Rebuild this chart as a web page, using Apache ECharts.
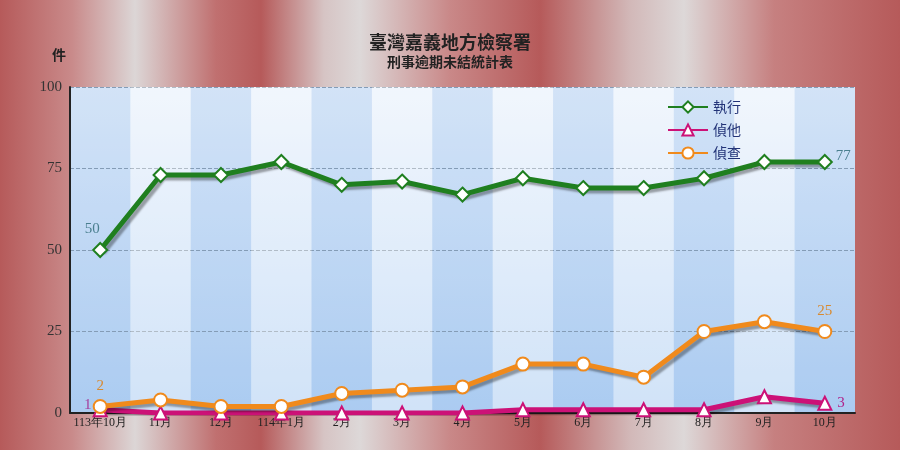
<!DOCTYPE html>
<html><head><meta charset="utf-8">
<script src="https://cdn.jsdelivr.net/npm/echarts@6/dist/echarts.min.js"></script>
<style>
body{margin:0;}
#c{width:900px;height:450px;
background:linear-gradient(90deg,#b65a5a 0%,#c98a8a 8%,#dcd6d6 15%,#c07070 24%,#b65a5a 29%,#d6c4c4 36%,#ddd8d8 40%,#c98888 50%,#b65a5a 60%,#d2b8b8 70%,#ddd8d8 76%,#c68080 86%,#b65a5a 100%);}
</style></head><body>
<div id="c"></div>
<script>
var months = ['113年10月','11月','12月','114年1月','2月','3月','4月','5月','6月','7月','8月','9月','10月'];
var zhixing = [50,73,73,77,70,71,67,72,69,69,72,77,77];
var zhenta = [1,0,0,0,0,0,0,1,1,1,1,5,3];
var zhencha = [2,4,2,2,6,7,8,15,15,11,25,28,25];

var font = '"Noto Sans CJK TC", "Liberation Serif", serif';
var last = months.length - 1;
var chart = echarts.init(document.getElementById('c'));

function ser(name, data, color, symbol, size) {
  return {
    name: name, type: 'line', data: data, symbol: symbol, symbolSize: size,
    lineStyle: {width: 5, color: color, shadowColor: 'rgba(0,0,0,0.35)', shadowOffsetX: 3, shadowOffsetY: 3, shadowBlur: 2},
    itemStyle: {color: '#fff', borderColor: color, borderWidth: 2},
    z: 3
  };
}

function pointLabel(idx, pos, color) {
  return {value: 0, label: {show: true, position: pos, color: color, fontFamily: 'Liberation Serif', fontSize: 15}, idx: idx};
}

// per-point end labels
function withLabels(data, marks) {
  return data.map(function (v, i) {
    var m = marks[i];
    if (!m) return v;
    return {value: v, label: {show: true, position: m[0], color: m[1], fontFamily: 'Liberation Serif', fontSize: 15, offset: m[2] || [0, 0]}};
  });
}

var m1 = {}; m1[0] = ['top', '#4a7f8f', [-8, 0]]; m1[last] = ['right', '#4a7f8f', [-2, -6]];
var m2 = {}; m2[last] = ['right', '#b0228a'];
var m3 = {}; m3[0] = ['top', '#d88a30']; m3[last] = ['top', '#d88a30'];

var s1 = ser('執行', withLabels(zhixing, m1), '#1f7f1f', 'diamond', 14);
var s2 = ser('偵他', withLabels(zhenta, m2), '#cc1177', 'triangle', 13);
var s3 = ser('偵查', withLabels(zhencha, m3), '#f08a1c', 'circle', 13);

chart.setOption({
  title: {
    text: '臺灣嘉義地方檢察署', subtext: '刑事逾期未結統計表', left: 'center', top: 28, itemGap: 4,
    textStyle: {fontFamily: font, fontSize: 18, fontWeight: 'bold', color: '#222'},
    subtextStyle: {fontFamily: font, fontSize: 14, fontWeight: 'bold', color: '#222'}
  },
  graphic: [
    {type: 'text', left: 52, top: 48, style: {text: '件', font: 'bold 14px "Noto Sans CJK TC"', fill: '#222'}},
    {type: 'text', left: 84, top: 398, style: {text: '1', font: '15px "Liberation Serif"', fill: '#b0228a'}}
  ],
  legend: {
    orient: 'vertical', left: 662, top: 95, itemGap: 9, itemWidth: 40, itemHeight: 14,
    textStyle: {fontFamily: font, fontSize: 14, color: '#223377'}
  },
  grid: {left: 70, right: 45, top: 87, bottom: 37, show: true, borderWidth: 0,
    backgroundColor: new echarts.graphic.LinearGradient(0, 0, 0, 1, [{offset: 0, color: '#eaf2fc'}, {offset: 1, color: '#b8d4f4'}])},
  xAxis: {
    type: 'category', data: months, boundaryGap: true,
    axisLine: {lineStyle: {color: '#222', width: 2}}, axisTick: {show: false},
    axisLabel: {interval: 0, fontFamily: 'Liberation Serif', fontSize: 12, color: '#222', margin: 4},
    splitArea: {show: true, interval: 0, areaStyle: {color: ['rgba(120,170,230,0.2)', 'rgba(255,255,255,0.35)']}}
  },
  yAxis: {
    type: 'value', min: 0, max: 100, interval: 25,
    axisLine: {show: true, lineStyle: {color: '#222', width: 2}},
    axisLabel: {fontFamily: 'Liberation Serif', fontSize: 15, color: '#333'},
    splitLine: {lineStyle: {type: 'dashed', color: '#8899aa'}}
  },
  series: [s1, s2, s3]
});
</script>
</body></html>
